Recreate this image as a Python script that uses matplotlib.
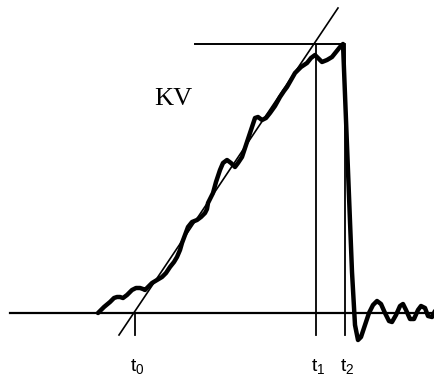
import matplotlib
matplotlib.use("Agg")
import matplotlib.pyplot as plt
import numpy as np

plt.rcParams['font.family'] = ['Liberation Sans', 'DejaVu Sans']

# chopped impulse trace (time in arbitrary units, voltage above baseline)
wave_t = [98, 100, 104, 110, 114, 117, 120, 123, 127, 132, 136, 140, 143,
          145, 148, 152, 157, 162, 166, 170, 174, 177, 180, 182, 185, 188,
          192, 197, 201, 205, 207, 208, 210, 213, 216, 220, 223, 227, 231,
          235, 238, 242, 246, 250, 253, 255, 258, 262, 266, 270, 275, 280,
          284, 287, 291, 295, 301, 307, 311, 315, 318, 322, 327, 332, 336,
          340, 343, 346, 349, 352, 355, 358, 361, 365, 369, 373, 377, 381,
          385, 389, 392, 396, 400, 403, 406, 410, 414, 418, 421, 425, 428,
          432, 435]
wave_v = [0, 2, 6, 11, 15, 16, 16, 15, 18, 23, 25, 25, 24,
          23, 26, 30, 33, 36, 40, 46, 51, 56, 63, 70, 78, 86,
          91, 93, 96, 100, 104, 110, 114, 120, 131, 143, 150, 153, 150,
          146, 150, 156, 168, 180, 189, 195, 196, 193, 195, 200, 207, 216,
          222, 226, 233, 240, 246, 250, 255, 258, 255, 251, 253, 256, 261,
          266, 269, 193, 117, 41, -12, -27, -24, -12, 0, 8, 12, 9,
          0, -8, -9, -2, 7, 9, 3, -6, -6, 3, 7, 5, -3,
          -4, 2]

# construction lines
base_t = [10, 435]
peak_v = 269
peak_t = [195, 343]
t0, t1, t2 = 135, 316, 345
front_t = [119, 338]
front_v = [-22, 305]
tick_low = -22

fig = plt.figure(figsize=(4.35, 3.82), dpi=100)
ax = fig.add_axes([0, 0, 1, 1])
ax.set_xlim(0, 435)
ax.set_ylim(-69, 313)
ax.axis('off')

ax.plot(base_t, [0, 0], color='black', linewidth=1.6)
ax.plot(peak_t, [peak_v, peak_v], color='black', linewidth=1.4)
ax.plot([t1, t1], [tick_low, peak_v], color='black', linewidth=1.3)
ax.plot([t2, t2], [tick_low, peak_v], color='black', linewidth=1.3)
ax.plot([t0, t0], [tick_low, 0], color='black', linewidth=1.3)
ax.plot(front_t, front_v, color='black', linewidth=1.2)
ax.plot(wave_t, wave_v, color='black', linewidth=3.2,
        solid_joinstyle='round', solid_capstyle='round')

ax.text(173, 214, "KV", fontsize=19, family='Liberation Serif',
        ha='center', va='center')
for x, s in [(t0, '0'), (t1, '1'), (t2, '2')]:
    ax.text(x + 2, -53, r'$\mathregular{t_%s}$' % s, fontsize=14,
            ha='center', va='center')

plt.savefig('out.png', dpi=100)
